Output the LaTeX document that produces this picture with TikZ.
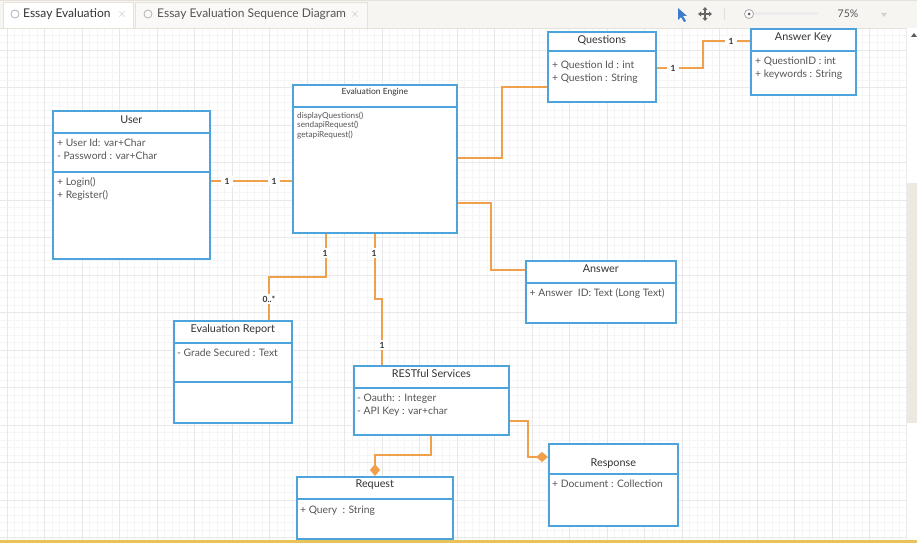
\documentclass[tikz,border=0pt]{standalone}
\usepackage{fontspec}
\setmainfont{Lato}
\usetikzlibrary{arrows.meta,positioning}

\definecolor{umlblue}{HTML}{4DA3DB}
\definecolor{linkorange}{HTML}{F0A04B}
\definecolor{gridminor}{HTML}{F5F5F5}
\definecolor{gridmajor}{HTML}{E8E8E8}
\definecolor{tabbar}{HTML}{F6F5F2}
\definecolor{tabline}{HTML}{E6E2DA}
\definecolor{txtgray}{HTML}{555555}
\definecolor{txtdark}{HTML}{333333}
\definecolor{thumbgray}{HTML}{ECE9E1}
\definecolor{bottomline}{HTML}{E8C35A}
\definecolor{cursorblue}{HTML}{3D7CC9}

\begin{document}
\begin{tikzpicture}[x=1pt, y=-1pt,
    classbox/.style={draw=umlblue, line width=1.6pt, fill=white, anchor=north west, inner sep=0pt},
    classsep/.style={draw=umlblue, line width=1.6pt},
    ctitle/.style={font=\fontsize{10.8}{12}\selectfont, text=txtdark, inner sep=0pt},
    cattr/.style={anchor=north west, align=left, inner sep=0pt, font=\fontsize{10.3}{13}\selectfont, text=txtgray},
    conn/.style={draw=linkorange, line width=1.4pt},
    mult/.style={fill=white, inner xsep=3.5pt, inner ysep=1.5pt, font=\fontsize{8.5}{10}\selectfont\bfseries, text=txtdark},
    tabtext/.style={font=\fontsize{12}{14}\selectfont, text=txtdark, anchor=west, inner sep=0pt}]
    \useasboundingbox (0,0) rectangle (917,543);

    % Canvas grid
    \fill[white] (0,28) rectangle (917,540);
    \foreach \x in {-0.5,7,...,906} \draw[gridminor, line width=0.5pt] (\x,28) -- (\x,540);
    \foreach \y in {35,42.5,...,540} \draw[gridminor, line width=0.5pt] (0,\y) -- (906,\y);
    \foreach \x in {7,44.5,...,906} \draw[gridmajor, line width=0.5pt] (\x,28) -- (\x,540);
    \foreach \y in {50,87.5,...,540} \draw[gridmajor, line width=0.5pt] (0,\y) -- (906,\y);

    % Tab bar
    \fill[tabbar] (0,0) rectangle (917,28);
    \draw[tabline] (0,0.5) -- (917,0.5);
    \draw[tabline] (0,28) -- (917,28);
    \draw[tabline, fill=white] (3,28) -- (3,2) -- (133,2) -- (133,28);
    \draw[tabline, fill=tabbar!60!white] (135,28) -- (135,2) -- (367,2) -- (367,28);
    \draw[gray!60, line width=0.8pt] (15,14) circle (4);
    \node[tabtext] (tabone) at (23,14.5) {Essay Evaluation};
    \node[font=\large, text=gray!50] (closeone) at (122,15) {$\times$};
    \draw[gray!60, line width=0.8pt] (148,14) circle (4);
    \node[tabtext, text=txtgray] (tabtwo) at (157,14.5) {Essay Evaluation Sequence Diagram};
    \node[font=\large, text=gray!50] (closetwo) at (355,15) {$\times$};

    % Toolbar icons
    \fill[cursorblue] (678,8) -- (678,20) -- (681,17) -- (684,22) -- (686,21) -- (683,16) -- (687,16) -- cycle;
    \draw[gray!80!black, line width=1.1pt] (699,14) -- (711,14) (705,8) -- (705,20);
    \fill[gray!80!black] (705,7) -- (702.5,10) -- (707.5,10) -- cycle;
    \fill[gray!80!black] (705,21) -- (702.5,18) -- (707.5,18) -- cycle;
    \fill[gray!80!black] (698,14) -- (701,11.5) -- (701,16.5) -- cycle;
    \fill[gray!80!black] (712,14) -- (709,11.5) -- (709,16.5) -- cycle;
    \draw[gray!25] (724,8) -- (724,20);
    \draw[gray!15, line width=3pt, line cap=round] (749,14) -- (817,14);
    \draw[gray!70, fill=white, line width=0.8pt] (749,14) circle (4.5);
    \fill[gray!70!black] (749,14) circle (1.5);
    \node[font=\fontsize{10.5}{12}\selectfont, text=txtgray] (zoomlevel) at (848,14) {75\%};
    \fill[gray!35] (881,13) -- (887,13) -- (884,17) -- cycle;

    % Scroll bar
    \fill[white] (906,28) rectangle (917,540);
    \draw[gray!15] (906,28) -- (906,540);
    \fill[thumbgray] (907,183) rectangle (917,423);
    \fill[gray!70!black] (914,33) -- (911,37) -- (917,37) -- cycle;
    \fill[bottomline] (0,540) rectangle (917,543);

    % User
    \node[classbox, minimum width=157pt, minimum height=148pt] (user) at (52,110) {};
    \draw[classsep] (user.west |- 0,133) -- (user.east |- 0,133);
    \draw[classsep] (user.west |- 0,172) -- (user.east |- 0,172);
    \node[ctitle] (usertitle) at (user.north |- 0,119.5) {User};
    \node[cattr] (userattr) at (57,138.5) {+ User Id: var+Char\\- Password : var+Char};
    \node[cattr] (userops) at (57,177.5) {+ Login()\\+ Register()};

    % Evaluation Engine
    \node[classbox, minimum width=164pt, minimum height=148pt] (engine) at (292,84) {};
    \draw[classsep] (engine.west |- 0,107) -- (engine.east |- 0,107);
    \node[ctitle, font=\fontsize{8.5}{10}\selectfont] (enginetitle) at (engine.north |- 0,92) {Evaluation Engine};
    \node[cattr, font=\fontsize{8.2}{9.7}\selectfont] (engineops) at (297,111.5) {displayQuestions()\\sendapiRequest()\\getapiRequest()};

    % Questions
    \node[classbox, minimum width=108pt, minimum height=70pt] (questions) at (547,31) {};
    \draw[classsep] (questions.west |- 0,51) -- (questions.east |- 0,51);
    \node[ctitle] (questionstitle) at (questions.north |- 0,40.5) {Questions};
    \node[cattr] (questionsattr) at (552,60.5) {+ Question Id : int\\+ Question : String};

    % Answer Key
    \node[classbox, minimum width=105pt, minimum height=66pt] (answerkey) at (750,28) {};
    \draw[classsep] (answerkey.west |- 0,51) -- (answerkey.east |- 0,51);
    \node[ctitle] (answerkeytitle) at (answerkey.north |- 0,37.5) {Answer Key};
    \node[cattr] (answerkeyattr) at (755,56.5) {+ QuestionID : int\\+ keywords : String};

    % Answer
    \node[classbox, minimum width=150pt, minimum height=62pt] (answer) at (525,260) {};
    \draw[classsep] (answer.west |- 0,283) -- (answer.east |- 0,283);
    \node[ctitle] (answertitle) at (answer.north |- 0,269) {Answer};
    \node[cattr] (answerattr) at (529.5,288.5) {+ Answer\ \ ID: Text (Long Text)};

    % Evaluation Report
    \node[classbox, minimum width=118pt, minimum height=102pt] (report) at (173,320) {};
    \draw[classsep] (report.west |- 0,343) -- (report.east |- 0,343);
    \draw[classsep] (report.west |- 0,382) -- (report.east |- 0,382);
    \node[ctitle] (reporttitle) at (report.north |- 0,329) {Evaluation Report};
    \node[cattr] (reportattr) at (177,348.5) {- Grade Secured : Text};

    % RESTful Services
    \node[classbox, minimum width=155pt, minimum height=69pt] (rest) at (353,365) {};
    \draw[classsep] (rest.west |- 0,388) -- (rest.east |- 0,388);
    \node[ctitle] (resttitle) at (rest.north |- 0,374) {RESTful Services};
    \node[cattr] (restattr) at (357,393.5) {- Oauth: : Integer\\- API Key : var+char};

    % Request
    \node[classbox, minimum width=156pt, minimum height=62pt] (request) at (296,476) {};
    \draw[classsep] (request.west |- 0,499) -- (request.east |- 0,499);
    \node[ctitle] (requesttitle) at (request.north |- 0,485) {Request};
    \node[cattr] (requestattr) at (300,505.5) {+ Query\ \ : String};

    % Response
    \node[classbox, minimum width=129pt, minimum height=82pt] (response) at (548,443) {};
    \draw[classsep] (response.west |- 0,474) -- (response.east |- 0,474);
    \node[ctitle] (responsetitle) at (response.north |- 0,464) {Response};
    \node[cattr] (responseattr) at (552,479.5) {+ Document : Collection};

    % Connectors
    \draw[conn] (user.east |- 0,181) -- (engine.west |- 0,181);
    \draw[conn] (engine.east |- 0,158) -- (502,158) |- (questions.west |- 0,87);
    \draw[conn] (questions.east |- 0,68) -- (703,68) |- (answerkey.west |- 0,41);
    \draw[conn] (engine.east |- 0,203) -- (491,203) |- (answer.west |- 0,270);
    \draw[conn] (engine.south -| 326,0) -- (326,277) -| (report.north -| 269,0);
    \draw[conn] (engine.south -| 375,0) -- (375,299) -| (rest.north -| 382,0);
    \draw[conn, -{Diamond[length=12pt, width=10pt]}] (rest.south -| 431,0) -- (431,455) -| (request.north -| 375,0);
    \draw[conn, -{Diamond[length=12pt, width=10pt]}] (rest.east |- 0,421) -- (528,421) |- (response.west |- 0,457);

    % Multiplicities
    \node[mult] (m1) at (227,181) {1};
    \node[mult] (m2) at (274,181) {1};
    \node[mult] (m3) at (673,68) {1};
    \node[mult] (m4) at (731,41) {1};
    \node[mult] (m5) at (325,253) {1};
    \node[mult] (m6) at (374,253) {1};
    \node[mult] (m7) at (269,299) {0..*};
    \node[mult] (m8) at (382,345) {1};
\end{tikzpicture}
\end{document}
